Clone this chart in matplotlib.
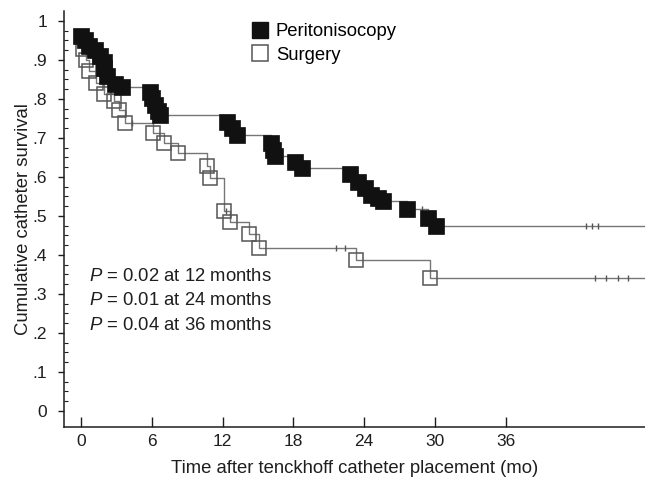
import matplotlib
matplotlib.use("Agg")
import matplotlib.pyplot as plt
from matplotlib.lines import Line2D
import numpy as np

plt.rcParams['font.family'] = ['Liberation Sans', 'DejaVu Sans']
plt.rcParams['mathtext.fontset'] = 'custom'
plt.rcParams['mathtext.rm'] = 'Liberation Sans'
plt.rcParams['mathtext.it'] = 'Liberation Sans:italic'

# Kaplan-Meier steps: event time (months) and survival after the event
peri_time = [0.0, 0.35, 0.65, 1.2, 1.6, 1.9, 1.95, 2.2, 2.9, 3.45,
             5.8, 6.0, 6.3, 6.55, 6.7,
             12.4, 12.8, 13.2,
             16.1, 16.3, 16.45, 18.1, 18.7,
             22.8, 23.5, 24.1, 24.6, 25.2, 25.6, 27.65, 29.4, 30.1]
peri_surv = [0.962, 0.951, 0.935, 0.925, 0.910, 0.896, 0.879, 0.858, 0.838, 0.832,
             0.819, 0.802, 0.785, 0.768, 0.759,
             0.742, 0.725, 0.708,
             0.686, 0.669, 0.655, 0.639, 0.624,
             0.607, 0.588, 0.571, 0.555, 0.545, 0.538, 0.519, 0.494, 0.474]
peri_end = 48.0
peri_censor = [28.9, 42.8, 43.3, 43.8]

surg_time = [0.15, 0.45, 0.65, 1.3, 1.9, 2.8, 3.25, 3.7, 6.1, 7.0, 8.2,
             10.7, 10.9, 12.1, 12.6, 14.2, 15.1, 23.3, 29.6]
surg_surv = [0.928, 0.900, 0.872, 0.840, 0.812, 0.795, 0.772, 0.739, 0.712, 0.686, 0.661,
             0.628, 0.598, 0.514, 0.484, 0.453, 0.419, 0.386, 0.340]
surg_start = 0.96
surg_end = 48.0
surg_censor = [4.3, 12.3, 21.6, 22.4, 43.6, 44.5, 45.5, 46.4]

group_labels = ["Peritonisocopy", "Surgery"]
p_notes = ["0.02 at 12 months", "0.01 at 24 months", "0.04 at 36 months"]

x_ticks = [0, 6, 12, 18, 24, 30, 36]
y_ticks = [0, 0.1, 0.2, 0.3, 0.4, 0.5, 0.6, 0.7, 0.8, 0.9, 1.0]
y_ticklabels = ["0", ".1", ".2", ".3", ".4", ".5", ".6", ".7", ".8", ".9", "1"]

line_col = "#767676"
text_col = "#1e1e1e"

fig = plt.figure(figsize=(6.45, 4.84), dpi=100)
ax = fig.add_axes([0.0992, 0.1186, 0.9008, 0.8582])


def km_curve(times, survs, start, end):
    xs = [times[0]] + list(times) + [end]
    ys = [start] + list(survs) + [survs[-1]]
    return xs, ys


def level_at(times, survs, start, t):
    val = start
    for ti, si in zip(times, survs):
        if ti <= t:
            val = si
    return val


# step lines
px, py = km_curve(peri_time, peri_surv, peri_surv[0], peri_end)
ax.step(px, py, where='post', color=line_col, lw=1.0, zorder=2)
sx, sy = km_curve(surg_time, surg_surv, surg_start, surg_end)
ax.step(sx, sy, where='post', color=line_col, lw=1.0, zorder=2)

# censoring ticks
ax.plot(peri_censor, [level_at(peri_time, peri_surv, 1, t) for t in peri_censor],
        ls='none', marker='|', ms=4, mew=1.0, color="#555555", zorder=2)
ax.plot(surg_censor, [level_at(surg_time, surg_surv, surg_start, t) for t in surg_censor],
        ls='none', marker='|', ms=4, mew=1.0, color="#555555", zorder=2)

# event markers
ax.plot(peri_time, peri_surv, ls='none', marker='s', ms=11, mfc='#111111',
        mec='#111111', mew=0.5, zorder=4)
ax.plot(surg_time, surg_surv, ls='none', marker='s', ms=10.5, mfc='none',
        mec='#555555', mew=1.1, zorder=3)

ax.set_xlim(-1.45, 47.8)
ax.set_ylim(-0.04, 1.025)

for side in ('top', 'right'):
    ax.spines[side].set_visible(False)
for side in ('left', 'bottom'):
    ax.spines[side].set_linewidth(1.1)
    ax.spines[side].set_color(text_col)

ax.set_xticks(x_ticks)
ax.set_yticks(y_ticks)
ax.set_yticklabels(y_ticklabels)
ax.set_yticks(np.arange(0, 1.001, 0.025), minor=True)
ax.tick_params(axis='x', direction='in', length=7, width=1.0, pad=5,
               labelsize=12.5, colors=text_col)
ax.tick_params(axis='y', which='major', direction='out', length=4, width=1.0,
               pad=8, labelsize=12.5, colors=text_col)
ax.tick_params(axis='y', which='minor', direction='in', length=3, width=0.8,
               colors=text_col)

ax.set_xlabel("Time after tenckhoff catheter placement (mo)", fontsize=13.3,
              labelpad=8, color=text_col)
ax.set_ylabel("Cumulative catheter survival", fontsize=13.3, labelpad=0.5,
              color=text_col)

handles = [
    Line2D([], [], ls='none', marker='s', ms=12, mfc='#111111', mec='#111111'),
    Line2D([], [], ls='none', marker='s', ms=11, mfc='white', mec='#555555', mew=1.1),
]
ax.legend(handles, group_labels, loc='upper left', bbox_to_anchor=(0.301, 1.0),
          frameon=False, fontsize=13.3, handlelength=1.0, handletextpad=0.35,
          borderpad=0.15, labelspacing=0.35)

for i, note in enumerate(p_notes):
    ax.text(0.043, 0.362 - i * 0.059, r"$P$ = " + note, transform=ax.transAxes,
            fontsize=13.3, va='center', ha='left', color=text_col)

fig.savefig("out.png", dpi=100)
